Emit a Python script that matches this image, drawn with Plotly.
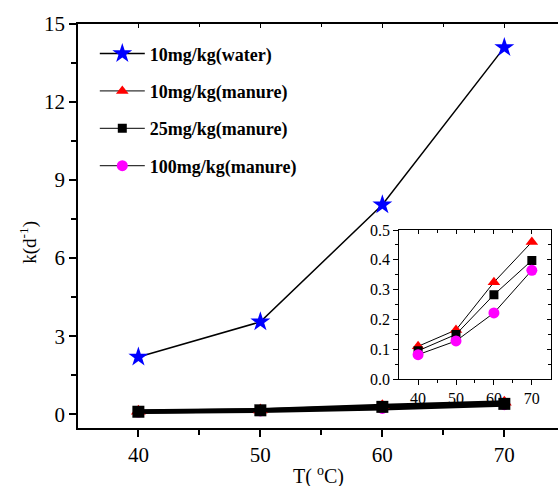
import plotly.graph_objects as go

temps = [40, 50, 60, 70]
water_10 = [2.2, 3.55, 8.05, 14.1]
manure_10 = [0.11, 0.165, 0.325, 0.46]
manure_25 = [0.095, 0.15, 0.283, 0.398]
manure_100 = [0.082, 0.128, 0.222, 0.365]
names = ["10mg/kg(water)", "10mg/kg(manure)", "25mg/kg(manure)", "100mg/kg(manure)"]

FONT = "Liberation Serif"
fig = go.Figure()

# main plot
fig.add_trace(go.Scatter(x=temps, y=water_10, mode="lines+markers", name=names[0],
    line=dict(color="black", width=1.5),
    marker=dict(symbol="star", size=15, color="#0000ff", line=dict(width=0)),
    legendrank=1, legendgroup="g1", xaxis="x", yaxis="y"))
main_specs = [
    (manure_100, "circle", 11, "#ff00ff"),
    (manure_10, "triangle-up", 13, "#ff0000"),
    (manure_25, "square", 12, "black"),
]
for vals, sym, sz, col in main_specs:
    fig.add_trace(go.Scatter(x=temps, y=vals, mode="lines+markers", showlegend=False,
        line=dict(color="black", width=4),
        marker=dict(symbol=sym, size=sz, color=col, line=dict(width=0)),
        xaxis="x", yaxis="y"))

# inset
inset_specs = [
    (manure_10, names[1], "triangle-up", 11, "#ff0000", 2),
    (manure_25, names[2], "square", 9, "black", 3),
    (manure_100, names[3], "circle", 11, "#ff00ff", 4),
]
for vals, nm, sym, sz, col, rk in inset_specs:
    fig.add_trace(go.Scatter(x=temps, y=vals, mode="lines+markers", name=nm,
        line=dict(color="black", width=1),
        marker=dict(symbol=sym, size=sz, color=col, line=dict(width=0)),
        legendrank=rk, legendgroup="g%d" % rk, xaxis="x2", yaxis="y2"))

# invisible anchors so the mirrored frame axes are drawn
fig.add_trace(go.Scatter(x=[temps[0]], y=[water_10[0]], mode="markers",
    marker=dict(opacity=0), showlegend=False, hoverinfo="skip", xaxis="x3", yaxis="y"))
fig.add_trace(go.Scatter(x=[temps[0]], y=[manure_10[0]], mode="markers",
    marker=dict(opacity=0), showlegend=False, hoverinfo="skip", xaxis="x4", yaxis="y4"))

tickfont = dict(family=FONT, size=21, color="black")
insetfont = dict(family=FONT, size=16, color="black")

fig.update_layout(
    width=558, height=486,
    margin=dict(l=78, r=0, t=24, b=58),
    paper_bgcolor="white", plot_bgcolor="white",
    showlegend=True,
    legend=dict(x=0.035, y=0.972, xanchor="left", yanchor="top",
                font=dict(family=FONT, size=18, color="black", weight="bold"),
                bgcolor="rgba(0,0,0,0)", itemwidth=45, tracegroupgap=11,
                traceorder="grouped"),
    xaxis=dict(range=[35.05, 74.4], domain=[0, 1], tickvals=temps, ticks="outside",
               ticklen=7, tickwidth=1.5, tickcolor="black", showline=True,
               linecolor="black", linewidth=1.5, showgrid=False, zeroline=False,
               tickfont=tickfont,
               minor=dict(tickvals=[45, 55, 65], ticks="outside", ticklen=5,
                          tickwidth=1.5, tickcolor="black"),
               anchor="y"),
    yaxis=dict(range=[-0.53, 15], domain=[0, 1], tickvals=[0, 3, 6, 9, 12, 15],
               ticks="outside", ticklen=7, tickwidth=1.5, tickcolor="black",
               showline=True, linecolor="black", linewidth=1.5, showgrid=False,
               zeroline=False, tickfont=tickfont,
               minor=dict(tickvals=[1.5, 4.5, 7.5, 10.5, 13.5], ticks="outside",
                          ticklen=5, tickwidth=1.5, tickcolor="black"),
               anchor="x"),
    xaxis3=dict(range=[35.05, 74.4], overlaying="x", side="top", anchor="y",
                tickvals=temps, ticks="inside", ticklen=4, tickwidth=1,
                tickcolor="black", showticklabels=False, showline=True,
                linecolor="black", linewidth=1.5, showgrid=False, zeroline=False,
                minor=dict(tickvals=[45, 55, 65], ticks="inside", ticklen=3,
                           tickcolor="black")),
    xaxis2=dict(range=[35, 75], domain=[0.669, 0.985], anchor="y2",
                tickvals=temps, ticks="outside", ticklen=5, tickwidth=1,
                tickcolor="black", showline=True, linecolor="black", linewidth=1,
                showgrid=False, zeroline=False, tickfont=insetfont,
                minor=dict(tickvals=[45, 55, 65], ticks="outside", ticklen=3,
                           tickcolor="black")),
    yaxis2=dict(range=[0, 0.5], domain=[0.121, 0.490], anchor="x2",
                tickvals=[0, 0.1, 0.2, 0.3, 0.4, 0.5], tickformat=".1f",
                ticks="outside", ticklen=5, tickwidth=1, tickcolor="black",
                showline=True, linecolor="black", linewidth=1, showgrid=False,
                zeroline=False, tickfont=insetfont,
                minor=dict(tickvals=[0.05, 0.15, 0.25, 0.35, 0.45], ticks="outside",
                           ticklen=3, tickcolor="black")),
    xaxis4=dict(range=[35, 75], domain=[0.669, 0.985], overlaying="x2", side="top",
                anchor="y4",
                tickvals=temps, ticks="inside", ticklen=4, tickwidth=1,
                tickcolor="black", showticklabels=False, showline=True,
                linecolor="black", linewidth=1, showgrid=False, zeroline=False,
                minor=dict(tickvals=[45, 55, 65], ticks="inside", ticklen=3,
                           tickcolor="black")),
    yaxis4=dict(range=[0, 0.5], domain=[0.121, 0.490], overlaying="y2", side="right",
                anchor="x4",
                tickvals=[0, 0.1, 0.2, 0.3, 0.4, 0.5], ticks="inside", ticklen=4,
                tickwidth=1, tickcolor="black", showticklabels=False,
                showline=True, linecolor="black", linewidth=1, showgrid=False,
                zeroline=False,
                minor=dict(tickvals=[0.05, 0.15, 0.25, 0.35, 0.45], ticks="inside",
                           ticklen=3, tickcolor="black")),
)

fig.add_annotation(text="k(d<sup>-1</sup>)", xref="paper", yref="paper",
                   x=-0.103, y=0.46, xanchor="center", yanchor="middle",
                   textangle=-90, showarrow=False,
                   font=dict(family=FONT, size=19, color="black"))
fig.add_annotation(text="T( <sup>o</sup>C)", xref="paper", yref="paper",
                   x=0.5, y=-0.118, xanchor="center", yanchor="middle",
                   showarrow=False,
                   font=dict(family=FONT, size=20, color="black"))

fig.write_html("out.html")
